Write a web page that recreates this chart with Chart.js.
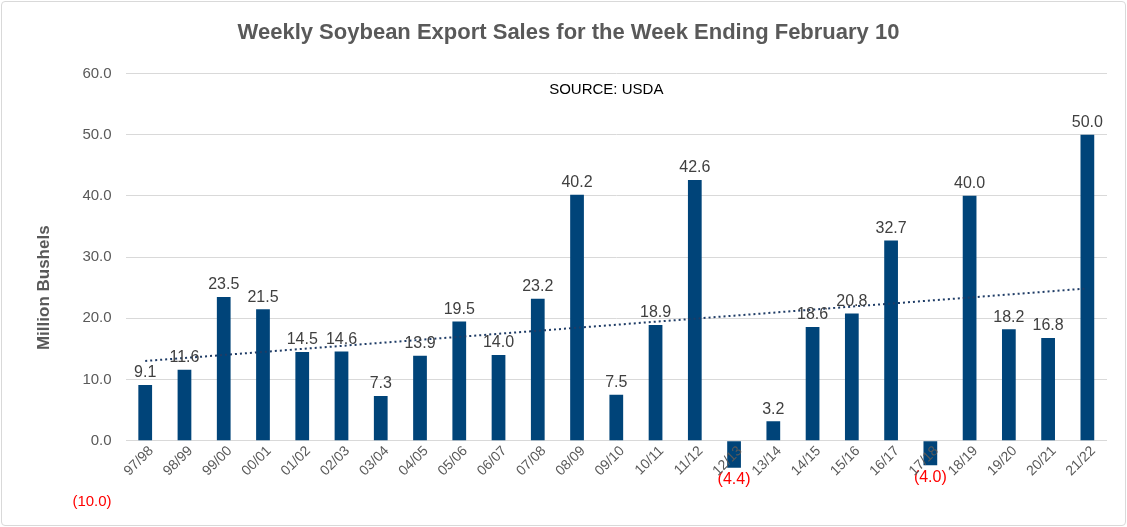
<!DOCTYPE html>
<html><head><meta charset="utf-8">
<script src="https://cdn.jsdelivr.net/npm/chart.js@4"></script>
<style>
body{margin:0;background:#fff}
#wrap{position:absolute;left:1px;top:1px;width:1123px;height:523px;border:1px solid #d9d9d9;border-radius:4px}
</style></head><body>
<div id="wrap"><canvas id="c"></canvas></div>
<script>
const seasons = ['97/98','98/99','99/00','00/01','01/02','02/03','03/04','04/05','05/06','06/07','07/08','08/09','09/10','10/11','11/12','12/13','13/14','14/15','15/16','16/17','17/18','18/19','19/20','20/21','21/22']
const sales = [9.1,11.6,23.5,21.5,14.5,14.6,7.3,13.9,19.5,14.0,23.2,40.2,7.5,18.9,42.6,-4.4,3.2,18.6,20.8,32.7,-4.0,40.0,18.2,16.8,50.0]

// linear trendline, like Excel's
const n = sales.length
let sx=0, sy=0, sxy=0, sxx=0
sales.forEach((v,i)=>{ sx+=i; sy+=v; sxy+=i*v; sxx+=i*i })
const slope = (n*sxy - sx*sy)/(n*sxx - sx*sx)
const icpt = (sy - slope*sx)/n
const trend = sales.map((v,i)=> icpt + slope*i)

function fmt(v) { return v < 0 ? `(${Math.abs(v).toFixed(1)})` : v.toFixed(1) }

const extras = {
  id: 'extras',
  afterDatasetsDraw(chart) {
    const ctx = chart.ctx, x = chart.scales.x, y = chart.scales.y
    const meta = chart.getDatasetMeta(0)
    ctx.save()
    ctx.font = '16px Arial, "Liberation Sans"'
    ctx.textAlign = 'center'
    meta.data.forEach((bar, i) => {
      const v = sales[i]
      if (v < 0) { ctx.fillStyle = '#ff0000'; ctx.textBaseline = 'top'; ctx.fillText(fmt(v), bar.x, bar.y + 4) }
      else { ctx.fillStyle = '#404040'; ctx.textBaseline = 'bottom'; ctx.fillText(fmt(v), bar.x, bar.y - 4) }
    })
    // category labels at the zero line, rotated
    const y0 = y.getPixelForValue(0)
    ctx.fillStyle = '#595959'
    ctx.font = '14px Arial, "Liberation Sans"'
    ctx.textAlign = 'right'
    ctx.textBaseline = 'middle'
    seasons.forEach((s, i) => {
      const px = x.getPixelForTick(i)
      ctx.save()
      ctx.translate(px + 6, y0 + 8)
      ctx.rotate(-Math.PI/4)
      ctx.fillText(s, 0, 0)
      ctx.restore()
    })
    ctx.font = '15px Arial, "Liberation Sans"'
    ctx.fillStyle = '#000'
    ctx.textAlign = 'center'
    ctx.fillText('SOURCE: USDA', (chart.chartArea.left + chart.chartArea.right)/2 - 10, 88)
    ctx.restore()
  }
}

new Chart(document.getElementById('c'), {
  type: 'bar',
  data: {
    labels: seasons,
    datasets: [
      { type: 'bar', data: sales, backgroundColor: '#004479', barPercentage: 0.35, categoryPercentage: 1, order: 2 },
      { type: 'line', data: trend, borderColor: '#1f3c66', borderWidth: 2, borderDash: [2, 3], pointRadius: 0, fill: false, order: 1 }
    ]
  },
  options: {
    responsive: true, maintainAspectRatio: false, animation: false,
    layout: { padding: { left: 28, right: 18, top: 14, bottom: 10 } },
    plugins: {
      legend: { display: false }, tooltip: { enabled: false },
      title: { display: true, text: 'Weekly Soybean Export Sales for the Week Ending February 10',
        color: '#595959', font: { size: 22, weight: 'bold', family: 'Arial, "Liberation Sans"' }, padding: { top: 4, bottom: 27 } }
    },
    scales: {
      x: { grid: { display: false }, border: { display: false }, ticks: { display: false } },
      y: {
        min: -10, max: 60,
        ticks: { stepSize: 10, callback: v => fmt(v), padding: 14,
          color: c => c.tick.value < 0 ? '#ff0000' : '#595959', font: { size: 15, family: 'Arial, "Liberation Sans"' } },
        grid: { color: c => c.tick.value < 0 ? 'rgba(0,0,0,0)' : '#d9d9d9', drawTicks: false }, border: { display: false },
        title: { display: true, text: 'Million Bushels', color: '#595959', font: { size: 17, weight: 'bold', family: 'Arial, "Liberation Sans"' } }
      }
    }
  },
  plugins: [extras]
})
</script></body></html>
